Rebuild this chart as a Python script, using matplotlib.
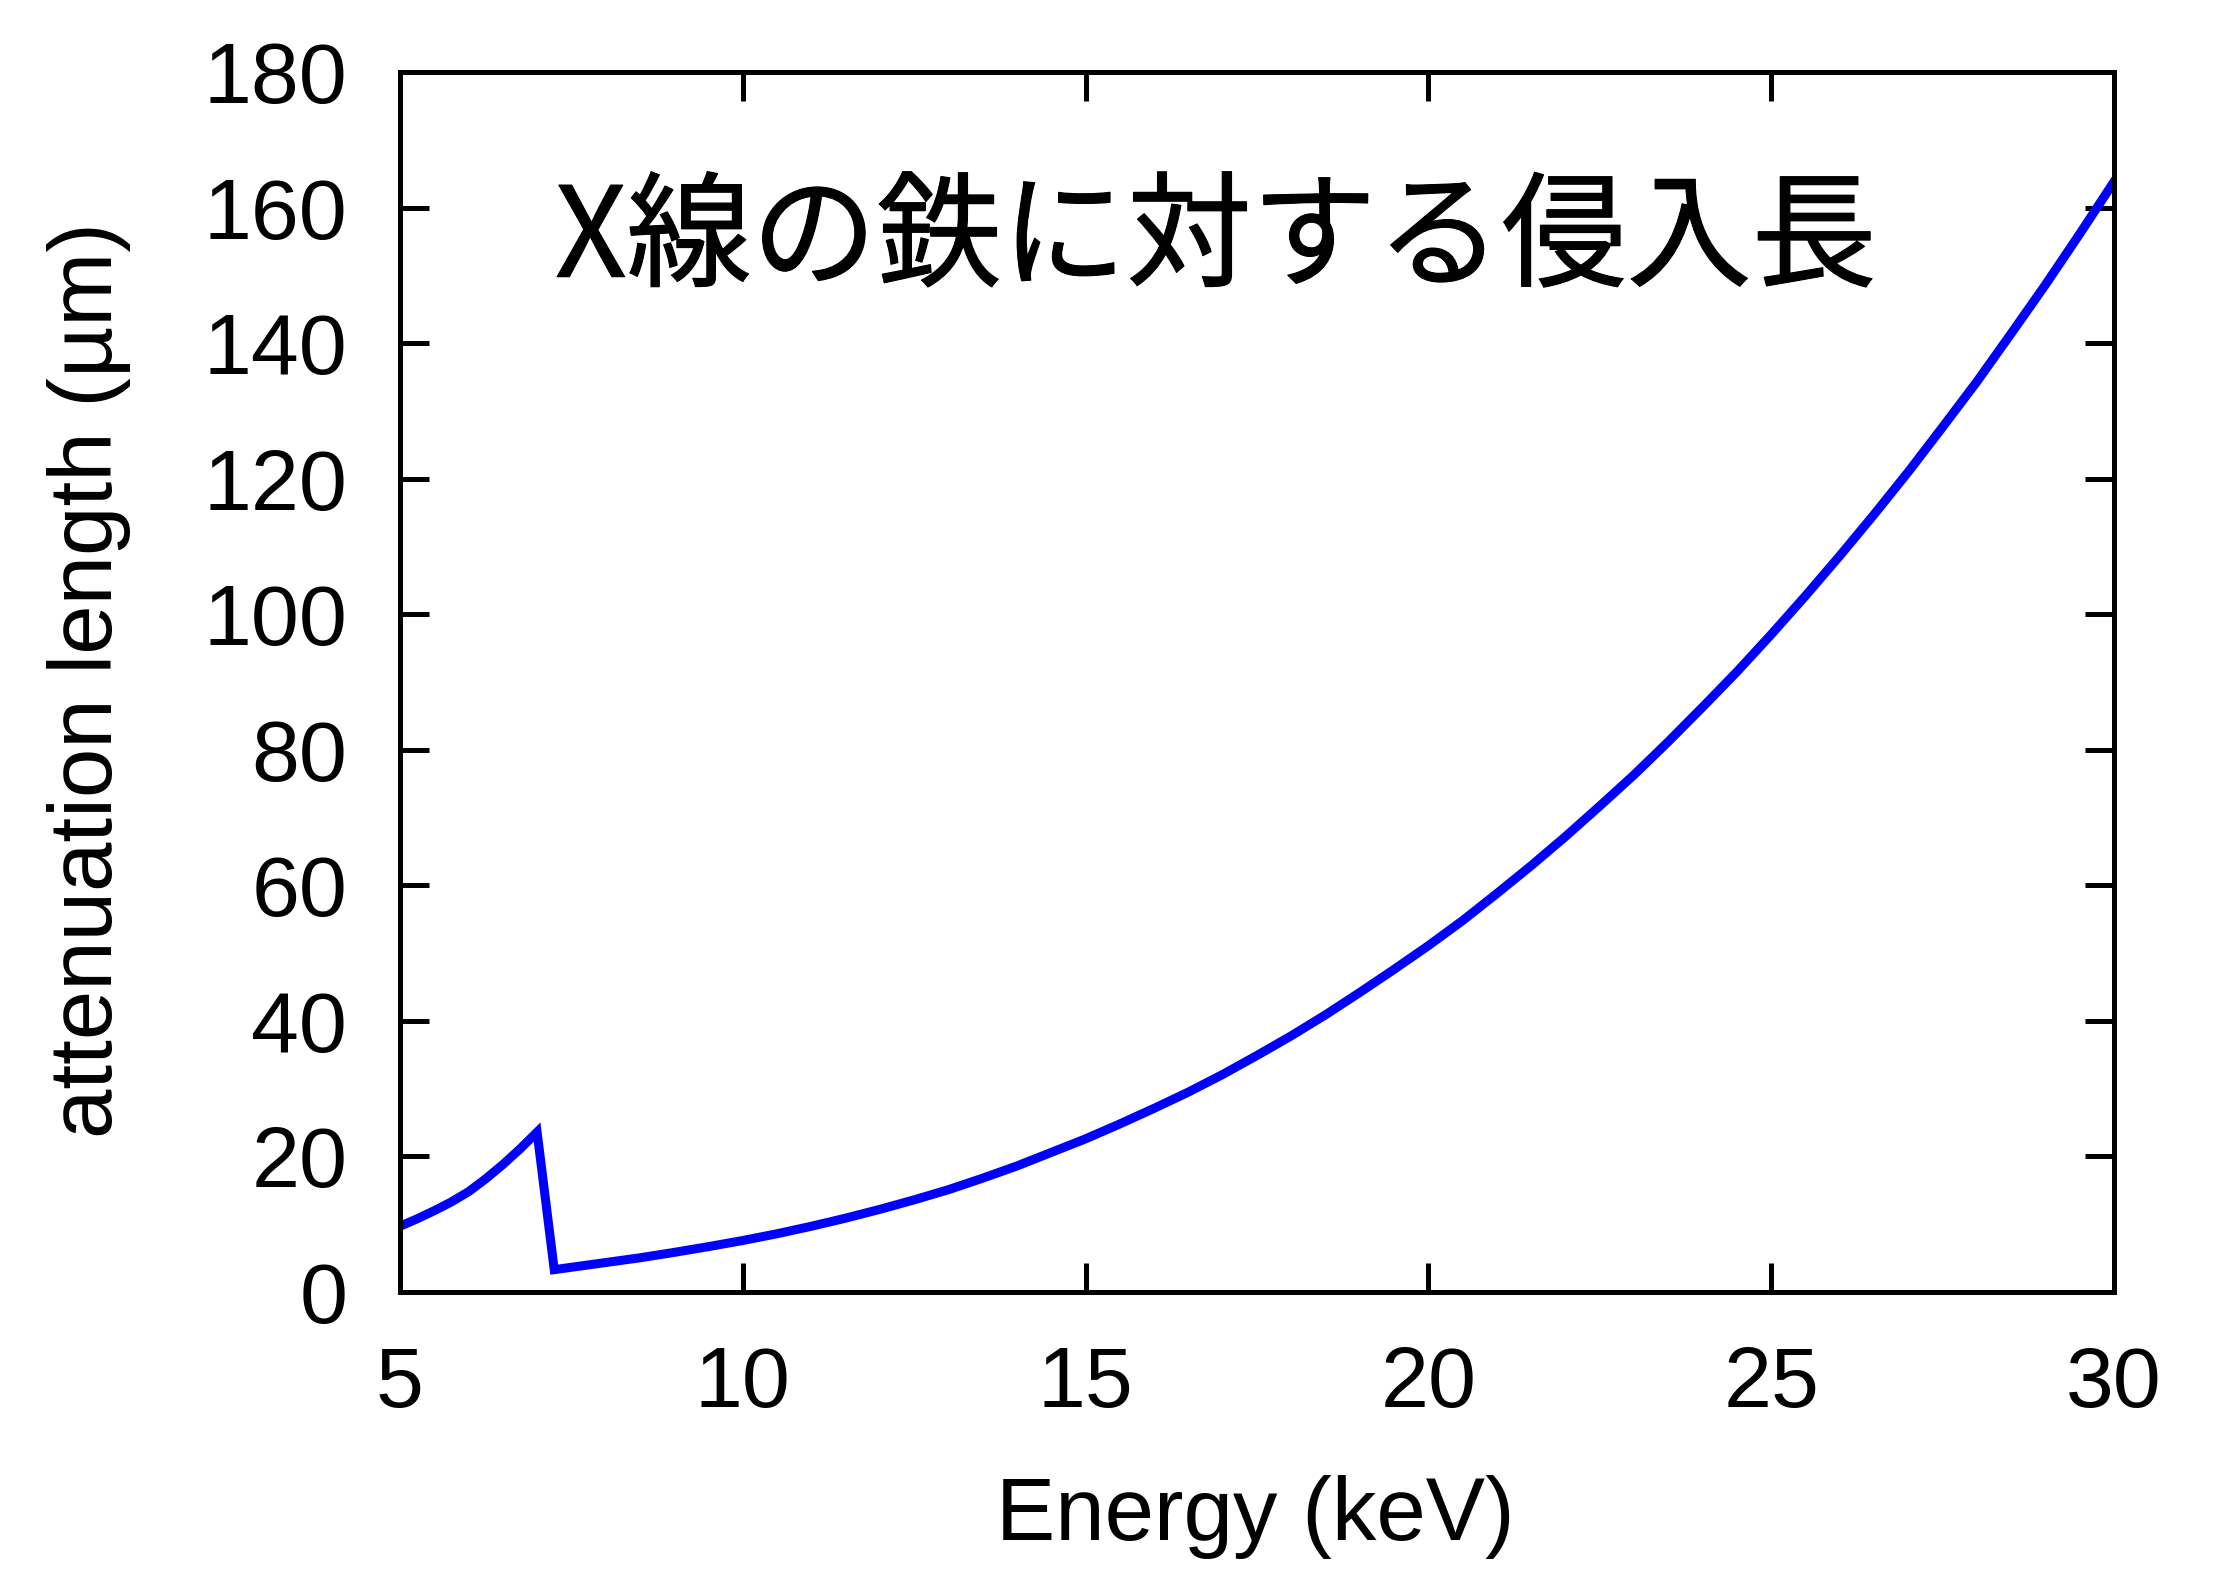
import matplotlib
matplotlib.use("Agg")
import matplotlib.pyplot as plt
import matplotlib.patheffects as pe

# attenuation length of Fe
energy = [5.0, 5.25, 5.5, 5.75, 6.0, 6.25, 6.5, 6.75, 7.0, 7.25, 7.5,
          8.0, 8.5, 9.0, 9.5, 10.0, 10.5, 11.0, 11.5, 12.0, 12.5, 13.0,
          13.5, 14.0, 14.5, 15.0, 15.5, 16.0, 16.5, 17.0, 17.5, 18.0,
          18.5, 19.0, 19.5, 20.0, 20.5, 21.0, 21.5, 22.0, 22.5, 23.0,
          23.5, 24.0, 24.5, 25.0, 25.5, 26.0, 26.5, 27.0, 27.5, 28.0,
          28.5, 29.0, 29.5, 30.0]
att_len = [9.7, 10.8, 12.0, 13.3, 14.8, 16.7, 18.8, 21.1, 23.6, 3.3, 3.65,
           4.35, 5.05, 5.85, 6.7, 7.6, 8.6, 9.7, 10.9, 12.2, 13.6, 15.1,
           16.8, 18.6, 20.6, 22.6, 24.8, 27.1, 29.5, 32.1, 34.9, 37.8,
           40.9, 44.2, 47.6, 51.1, 54.8, 58.8, 62.9, 67.2, 71.7, 76.3,
           81.2, 86.3, 91.5, 97.0, 102.7, 108.6, 114.7, 121.0, 127.6, 134.3,
           141.4, 148.6, 156.1, 163.8]

x_ticks = [5, 10, 15, 20, 25, 30]
y_ticks = [0, 20, 40, 60, 80, 100, 120, 140, 160, 180]

title = "X線の鉄に対する侵入長"

plt.rcParams['font.family'] = ['Liberation Sans', 'DejaVu Sans']

fig = plt.figure(figsize=(22.32, 15.72), dpi=100)
ax = fig.add_axes([0.1792, 0.1781, 0.7679, 0.7761])

ax.plot(energy, att_len, color='#0000ff', linewidth=6.5, solid_joinstyle='miter')

ax.set_xlim(5, 30)
ax.set_ylim(0, 180)
ax.set_xticks(x_ticks)
ax.set_yticks(y_ticks)
ax.tick_params(direction='in', length=21, width=3.6, top=True, right=True,
               labelsize=62, pad=38)
for s in ax.spines.values():
    s.set_linewidth(3.6)

ax.set_xlabel("Energy (keV)", fontsize=64)
ax.set_ylabel("attenuation length (µm)", fontsize=64)
ax.xaxis.set_label_coords(0.499, -0.150)
ax.xaxis.label.set_va('top')
ax.yaxis.set_label_coords(-0.157, 0.502)
ax.yaxis.label.set_va('bottom')

ax.text(16.9, 155, title, fontsize=90, ha='center', va='center',
        family=['Noto Sans CJK JP', 'DejaVu Sans'],
        path_effects=[pe.withStroke(linewidth=0.8, foreground='black')])

fig.savefig("out.png", dpi=100)
